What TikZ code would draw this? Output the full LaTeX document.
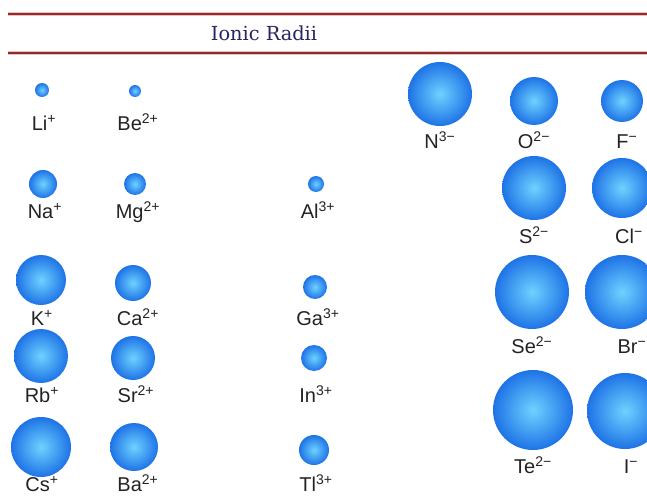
\documentclass[tikz,border=0pt]{standalone}
\usepackage{fontspec}
\setmainfont{Liberation Sans}
\newfontfamily\titlefont{DejaVu Serif}
\definecolor{ionlight}{RGB}{110,210,255}
\definecolor{ionblue}{RGB}{30,115,230}
\definecolor{rulered}{RGB}{140,45,45}
\definecolor{rulepink}{RGB}{240,190,190}
\definecolor{titleblue}{RGB}{40,38,95}
\definecolor{lblgray}{RGB}{35,35,35}
\tikzset{
  ball/.style={circle,inner sep=0pt,minimum size=#1*1.5pt,
    inner color=ionlight,outer color=ionblue},
  ionlbl/.style={anchor=base,inner sep=0pt,text=lblgray,
    font=\fontsize{15}{17}\selectfont},
  headrule/.style={line width=#1}
}
\begin{document}
\begin{tikzpicture}[x=0.75pt,y=-0.75pt]
\useasboundingbox[fill=white] (0,0) rectangle (647,496);
% header
\draw[headrule=3pt,rulepink] (8,14)--(647,14);
\draw[headrule=1.2pt,rulered] (8,14)--(647,14);
\draw[headrule=3pt,rulepink] (8,53)--(647,53);
\draw[headrule=1.2pt,rulered] (8,53)--(647,53);
\node[font=\titlefont\fontsize{14.5}{16}\selectfont,text=titleblue] (title) at (264,33) {Ionic Radii};
% group 1
\node[ball=7] (li) at (42,90) {};
\node[ionlbl] (lilbl) at (44,130) {Li\textsuperscript{+}};
\node[ball=14] (na) at (43,184) {};
\node[ionlbl] (nalbl) at (45,218) {Na\textsuperscript{+}};
\node[ball=25] (k) at (41,280) {};
\node[ionlbl] (klbl) at (42,325) {K\textsuperscript{+}};
\node[ball=27] (rb) at (41,356) {};
\node[ionlbl] (rblbl) at (42,402) {Rb\textsuperscript{+}};
\node[ball=30] (cs) at (41,447) {};
\node[ionlbl] (cslbl) at (42,491) {Cs\textsuperscript{+}};
% group 2
\node[ball=6] (be) at (135,91) {};
\node[ionlbl] (belbl) at (138,130) {Be\textsuperscript{2+}};
\node[ball=11] (mg) at (135,184) {};
\node[ionlbl] (mglbl) at (138,218) {Mg\textsuperscript{2+}};
\node[ball=18] (ca) at (133,283) {};
\node[ionlbl] (calbl) at (138,325) {Ca\textsuperscript{2+}};
\node[ball=22] (sr) at (133,358) {};
\node[ionlbl] (srlbl) at (136,402) {Sr\textsuperscript{2+}};
\node[ball=24] (ba) at (134,447) {};
\node[ionlbl] (balbl) at (138,491) {Ba\textsuperscript{2+}};
% group 13
\node[ball=8] (al) at (316,184) {};
\node[ionlbl] (allbl) at (318,218) {Al\textsuperscript{3+}};
\node[ball=12] (ga) at (315,287) {};
\node[ionlbl] (galbl) at (318,325) {Ga\textsuperscript{3+}};
\node[ball=13] (in) at (314,358) {};
\node[ionlbl] (inlbl) at (316,402) {In\textsuperscript{3+}};
\node[ball=15] (tl) at (314,450) {};
\node[ionlbl] (tllbl) at (316,491) {Tl\textsuperscript{3+}};
% anions
\node[ball=32] (n) at (440,94) {};
\node[ionlbl] (nlbl) at (440,148) {N\textsuperscript{3−}};
\node[ball=24] (o) at (534,101) {};
\node[ionlbl] (olbl) at (534,148) {O\textsuperscript{2−}};
\node[ball=21] (f) at (622,101) {};
\node[ionlbl] (flbl) at (627,148) {F\textsuperscript{−}};
\node[ball=32] (s) at (534,188) {};
\node[ionlbl] (slbl) at (534,243) {S\textsuperscript{2−}};
\node[ball=30] (cl) at (622,188) {};
\node[ionlbl] (cllbl) at (629,243) {Cl\textsuperscript{−}};
\node[ball=37] (se) at (532,292) {};
\node[ionlbl] (selbl) at (532,353) {Se\textsuperscript{2−}};
\node[ball=37] (br) at (622,292) {};
\node[ionlbl] (brlbl) at (632,353) {Br\textsuperscript{−}};
\node[ball=40] (te) at (533,410) {};
\node[ionlbl] (telbl) at (533,473) {Te\textsuperscript{2−}};
\node[ball=38] (i) at (625,411) {};
\node[ionlbl] (ilbl) at (631,473) {I\textsuperscript{−}};
\end{tikzpicture}
\end{document}
